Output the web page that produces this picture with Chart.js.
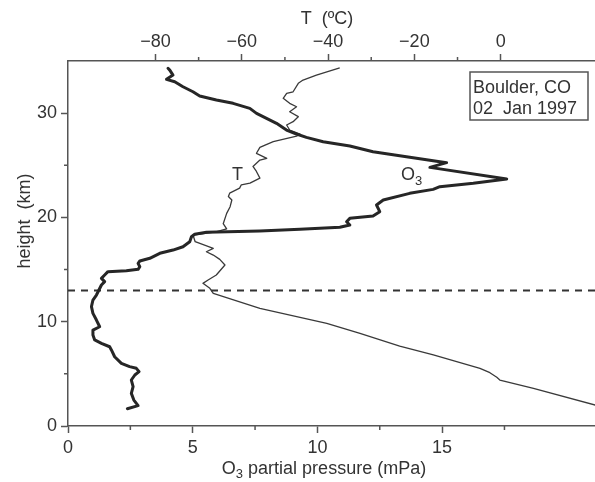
<!DOCTYPE html>
<html>
<head>
<meta charset="utf-8">
<script src="https://cdn.jsdelivr.net/npm/chart.js@4.4.0/dist/chart.umd.min.js"></script>
<style>
  html, body { margin: 0; padding: 0; background: #fff; }
</style>
</head>
<body>
<canvas id="ozoneChart" width="595" height="482"></canvas>
<script>
  // ozone sounding, Boulder CO, 02 Jan 1997
  const o3Pressure = [2.38, 2.81, 2.64, 2.54, 2.61, 2.54, 2.68, 2.85, 2.74, 2.47, 2.14, 1.87, 1.74, 1.67, 1.34, 1.07, 1.00, 1.00, 1.27, 1.14,
    1.00, 0.94, 1.00, 1.14, 1.24, 1.34, 1.47, 1.34, 1.47, 1.60, 2.34, 2.81, 2.88, 2.81, 2.88, 3.28, 3.68, 4.21, 4.61, 4.88,
    4.95, 5.08, 5.55, 7.69, 9.30, 10.90, 11.30, 11.17, 11.30, 12.23, 12.50, 12.37, 12.64, 13.70, 14.64, 14.91, 16.25, 17.59,
    14.51, 15.18, 13.57, 12.23, 11.30, 10.23, 9.56, 9.16, 8.76, 8.36, 7.96, 7.56, 7.29, 6.62, 5.95, 5.28, 5.01, 4.61,
    4.28, 3.95, 4.21, 4.08, 4.01];
  const o3Height = [1.66, 1.95, 2.49, 3.13, 3.77, 4.41, 4.89, 5.21, 5.53, 5.69, 6.01, 6.64, 7.29, 7.60, 7.93, 8.25, 8.72, 9.20, 9.52, 10.16,
    10.80, 11.44, 12.08, 12.56, 13.04, 13.52, 13.84, 14.16, 14.48, 14.80, 14.89, 15.02, 15.27, 15.60, 15.82, 16.08, 16.56, 16.87, 17.19, 17.67,
    18.15, 18.38, 18.57, 18.70, 18.86, 19.05, 19.27, 19.59, 19.91, 20.13, 20.55, 21.19, 21.67, 22.31, 22.69, 22.95, 23.27, 23.68,
    24.80, 25.25, 25.82, 26.30, 26.85, 27.26, 27.68, 28.00, 28.38, 29.02, 29.50, 29.98, 30.46, 30.94, 31.26, 31.64, 32.05, 32.53,
    33.01, 33.24, 33.65, 34.13, 34.30];

  const tempC = [21.9, 7.6, -0.2, -0.9, -2.5, -4.8, -15.6, -23.4, -32.6, -40.3, -55.8, -66.6, -67.4, -69.0, -67.8, -65.9, -63.9, -65.1, -66.6, -68.2,
    -66.6, -70.8, -71.3, -66.0, -63.5, -64.3, -63.5, -62.7, -62.3, -63.1, -62.8, -60.5, -60.1, -58.1, -55.8, -56.6, -57.4, -55.8, -54.2, -56.6,
    -55.8, -54.6, -52.7, -47.3, -46.5, -48.9, -49.6, -48.1, -46.9, -48.9, -47.3, -48.9, -50.4, -49.6, -48.1, -46.9, -45.8, -42.7, -37.3];
  const tempHeight = [2.01, 3.61, 4.41, 4.67, 5.11, 5.53, 6.81, 7.67, 8.89, 9.85, 11.28, 12.72, 13.20, 13.68, 14.00, 14.48, 15.44, 15.98, 16.39, 16.71,
    17.04, 17.67, 18.31, 18.62, 18.90, 19.40, 20.39, 21.03, 21.67, 22.01, 22.33, 22.81, 23.13, 23.29, 23.77, 24.41, 24.89, 25.50, 25.67, 26.15,
    26.72, 26.94, 27.26, 27.80, 28.00, 28.38, 28.86, 29.18, 29.66, 30.13, 30.61, 30.94, 31.42, 31.90, 32.05, 32.86, 33.17, 33.65, 34.35];

  const tropopauseHeight = 13;

  const o3Ticks = [0, 5, 10, 15];
  const o3MinorTicks = [2.5, 7.5, 12.5, 17.5];
  const tempTicks = [-80, -60, -40, -20, 0];
  const tempMinorTicks = [-70, -50, -30, -10];
  const heightTicks = [0, 10, 20, 30];
  const heightMinorTicks = [5, 15, 25];

  const textColor = '#333';
  const axisColor = '#555';
  const fontFamily = '"Liberation Sans", Arial, sans-serif';
  const tickFont = { family: fontFamily, size: 18 };

  const fmtMinus = v => (v < 0 ? '\u2212' + Math.abs(v) : String(v));

  // minor ticks, axis titles, curve labels and the site box
  const extrasPlugin = {
    id: 'extras',
    afterDraw(chart) {
      const ctx = chart.ctx;
      const area = chart.chartArea;
      const sx = chart.scales.x, st = chart.scales.x2, sy = chart.scales.y;
      ctx.save();
      ctx.strokeStyle = axisColor;
      ctx.lineWidth = 1.5;
      ctx.beginPath();
      o3MinorTicks.forEach(v => {
        const p = sx.getPixelForValue(v);
        ctx.moveTo(p, area.bottom); ctx.lineTo(p, area.bottom + 4);
      });
      tempMinorTicks.forEach(v => {
        const p = st.getPixelForValue(v);
        ctx.moveTo(p, area.top); ctx.lineTo(p, area.top - 4);
      });
      heightMinorTicks.forEach(v => {
        const p = sy.getPixelForValue(v);
        ctx.moveTo(area.left - 4, p); ctx.lineTo(area.left, p);
      });
      ctx.stroke();

      ctx.fillStyle = textColor;
      ctx.font = '18px ' + fontFamily;
      ctx.textBaseline = 'alphabetic';

      // top title
      ctx.textAlign = 'center';
      ctx.fillText('T  (\u00baC)', 327, 24);

      // y title
      ctx.save();
      ctx.translate(30, 221);
      ctx.rotate(-Math.PI / 2);
      ctx.fillText('height  (km)', 0, 0);
      ctx.restore();

      // bottom title with subscript
      ctx.textAlign = 'left';
      const rest = ' partial pressure (mPa)';
      ctx.font = '18px ' + fontFamily;
      const wO = ctx.measureText('O').width;
      const wRest = ctx.measureText(rest).width;
      ctx.font = '13px ' + fontFamily;
      const wSub = ctx.measureText('3').width;
      let x0 = 324 - (wO + wSub + wRest) / 2;
      ctx.font = '18px ' + fontFamily;
      ctx.fillText('O', x0, 474);
      ctx.font = '13px ' + fontFamily;
      ctx.fillText('3', x0 + wO, 478);
      ctx.font = '18px ' + fontFamily;
      ctx.fillText(rest, x0 + wO + wSub, 474);

      // curve labels
      ctx.fillText('T', 232, 180);
      ctx.fillText('O', 401, 180);
      ctx.font = '13px ' + fontFamily;
      ctx.fillText('3', 415, 185);

      // site box
      ctx.strokeStyle = axisColor;
      ctx.lineWidth = 1.5;
      ctx.strokeRect(470, 72, 118, 48);
      ctx.font = '18px ' + fontFamily;
      ctx.fillText('Boulder, CO', 473, 93);
      ctx.fillText('02  Jan 1997', 473, 114);
      ctx.restore();
    }
  };

  new Chart(document.getElementById('ozoneChart'), {
    type: 'scatter',
    data: {
      datasets: [
        {
          label: 'O3',
          data: o3Pressure.map((p, i) => ({ x: p, y: o3Height[i] })),
          xAxisID: 'x',
          showLine: true,
          borderColor: '#262626',
          borderWidth: 3,
          borderJoinStyle: 'round',
          borderCapStyle: 'round',
          pointRadius: 0,
          tension: 0
        },
        {
          label: 'T',
          data: tempC.map((t, i) => ({ x: t, y: tempHeight[i] })),
          xAxisID: 'x2',
          showLine: true,
          borderColor: '#3a3a3a',
          borderWidth: 1.3,
          borderJoinStyle: 'round',
          pointRadius: 0,
          tension: 0
        },
        {
          label: 'tropopause',
          data: [{ x: 0, y: tropopauseHeight }, { x: 21.2, y: tropopauseHeight }],
          xAxisID: 'x',
          showLine: true,
          borderColor: '#333',
          borderWidth: 2,
          borderDash: [7, 6],
          pointRadius: 0
        }
      ]
    },
    options: {
      responsive: false,
      animation: false,
      layout: { padding: 0 },
      plugins: {
        legend: { display: false },
        tooltip: { enabled: false }
      },
      scales: {
        x: {
          type: 'linear',
          position: 'bottom',
          min: 0,
          max: 21.13,
          afterBuildTicks: s => { s.ticks = o3Ticks.map(v => ({ value: v })); },
          afterFit: s => { s.height = 56; },
          grid: { drawOnChartArea: false, tickLength: 7, tickColor: axisColor, tickWidth: 1.5 },
          border: { color: axisColor, width: 1.5 },
          ticks: { font: tickFont, color: textColor, padding: 4, maxRotation: 0, autoSkip: false }
        },
        x2: {
          type: 'linear',
          position: 'top',
          min: -100.27,
          max: 21.86,
          afterBuildTicks: s => { s.ticks = tempTicks.map(v => ({ value: v })); },
          afterFit: s => { s.height = 61; },
          grid: { drawOnChartArea: false, tickLength: 7, tickColor: axisColor, tickWidth: 1.5 },
          border: { color: axisColor, width: 1.5 },
          ticks: { font: tickFont, color: textColor, padding: 1, maxRotation: 0, autoSkip: false, callback: v => fmtMinus(v) }
        },
        y: {
          type: 'linear',
          position: 'left',
          min: 0,
          max: 35,
          afterBuildTicks: s => { s.ticks = heightTicks.map(v => ({ value: v })); },
          afterFit: s => { s.width = 68; },
          grid: { drawOnChartArea: false, tickLength: 7, tickColor: axisColor, tickWidth: 1.5 },
          border: { color: axisColor, width: 1.5 },
          ticks: { font: tickFont, color: textColor, padding: 4, autoSkip: false }
        }
      }
    },
    plugins: [extrasPlugin]
  });
</script>
</body>
</html>
